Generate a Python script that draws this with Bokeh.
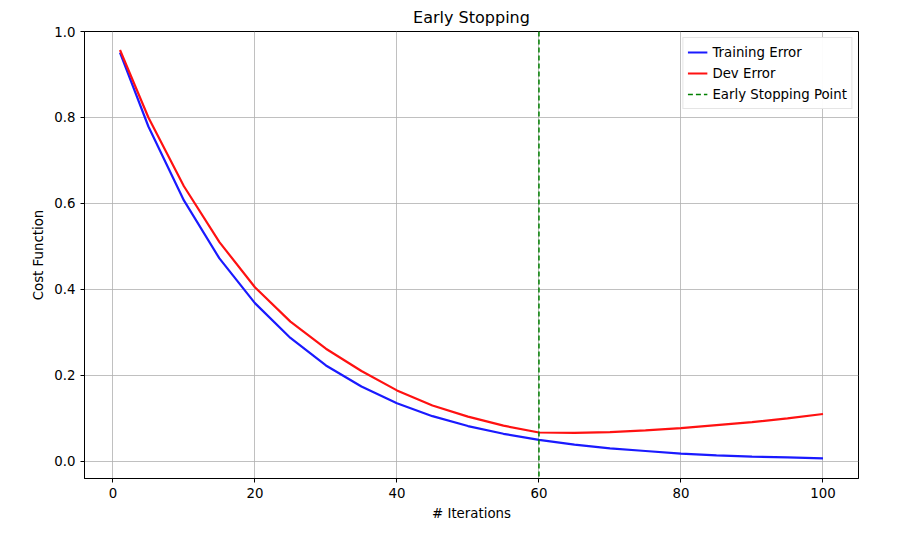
from bokeh.plotting import figure
from bokeh.embed import file_html
from bokeh.resources import INLINE
from bokeh.models import Span, FixedTicker, Range1d, PrintfTickFormatter

iters = [1, 5, 10, 15, 20, 25, 30, 35, 40, 45, 50, 55, 60, 65, 70, 75, 80, 85, 90, 95, 100]
train = [0.951, 0.779, 0.607, 0.472, 0.368, 0.287, 0.223, 0.174, 0.135, 0.105, 0.082,
         0.064, 0.050, 0.039, 0.030, 0.024, 0.018, 0.014, 0.011, 0.009, 0.007]
dev = [0.957, 0.80, 0.64, 0.51, 0.405, 0.325, 0.262, 0.21, 0.165, 0.13, 0.104,
       0.083, 0.067, 0.066, 0.068, 0.072, 0.077, 0.084, 0.091, 0.10, 0.11]
stop_iter = 60

p = figure(width=895, height=523, output_backend="svg", toolbar_location=None,
           x_range=Range1d(-4, 105), y_range=Range1d(-0.04, 1.0),
           min_border_left=84, min_border_right=37, min_border_top=20, min_border_bottom=27,
           title="Early Stopping")
p.title.align = "center"
p.title.text_font = "DejaVu Sans"
p.title.text_font_size = "12pt"
p.title.text_font_style = "normal"
p.title.text_color = "black"

p.line(iters, train, line_color="#1a1aff", line_width=2.2, legend_label="Training Error")
p.line(iters, dev, line_color="#ff1111", line_width=2.2, legend_label="Dev Error")
p.line([stop_iter, stop_iter], [-1, -1], line_color="green", line_dash="5 3", line_width=1.5,
       legend_label="Early Stopping Point")
p.add_layout(Span(location=stop_iter, dimension="height", line_color="green",
                  line_dash="5 3", line_width=1.5))

p.xaxis.ticker = FixedTicker(ticks=[0, 20, 40, 60, 80, 100])
p.yaxis.ticker = FixedTicker(ticks=[0, 0.2, 0.4, 0.6, 0.8, 1.0])
p.yaxis.formatter = PrintfTickFormatter(format="%.1f")
p.xaxis.axis_label = "# Iterations"
p.yaxis.axis_label = "Cost Function"
for ax in (p.xaxis[0], p.yaxis[0]):
    ax.axis_label_text_font = "DejaVu Sans"
    ax.axis_label_text_font_style = "normal"
    ax.axis_label_text_font_size = "10pt"
    ax.axis_label_text_color = "black"
    ax.major_label_text_font = "DejaVu Sans"
    ax.major_label_text_font_size = "10pt"
    ax.major_label_text_color = "black"
    ax.minor_tick_line_color = None
    ax.major_tick_in = 0
    ax.major_tick_out = 4
    ax.axis_line_color = "black"
    ax.major_tick_line_color = "black"
p.grid.grid_line_color = "#b0b0b0"
p.grid.grid_line_width = 0.8
p.outline_line_color = "black"
p.outline_line_alpha = 1

p.legend.location = "top_right"
p.legend.label_text_font = "DejaVu Sans"
p.legend.label_text_font_size = "10pt"
p.legend.label_text_color = "black"
p.legend.border_line_color = "#cccccc"
p.legend.spacing = 1
p.legend.padding = 4
p.legend.label_height = 20
p.legend.glyph_height = 20
p.legend.margin = 6

open("out.html", "w").write(file_html(p, INLINE))
